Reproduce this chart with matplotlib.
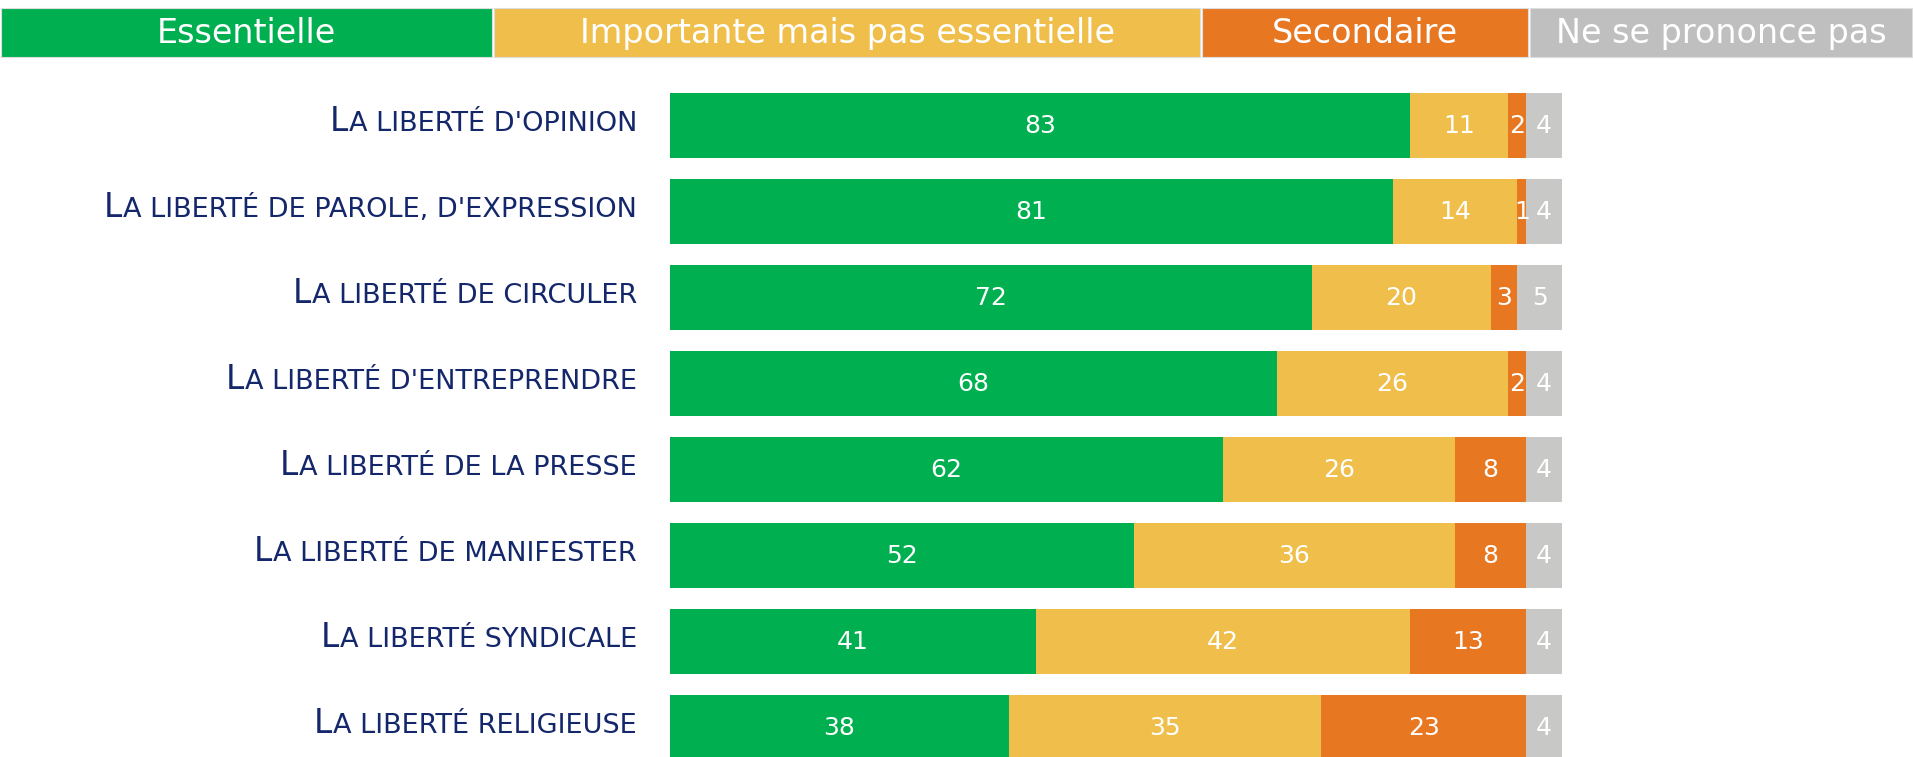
import matplotlib
matplotlib.use("Agg")
import matplotlib.pyplot as plt
from matplotlib.patches import Rectangle
import numpy as np

# data
labels = [
    "La liberté d'opinion",
    "La liberté de parole, d'expression",
    "La liberté de circuler",
    "La liberté d'entreprendre",
    "La liberté de la presse",
    "La liberté de manifester",
    "La liberté syndicale",
    "La liberté religieuse",
]
categories = ["Essentielle", "Importante mais pas essentielle", "Secondaire", "Ne se prononce pas"]
essentielle = [83, 81, 72, 68, 62, 52, 41, 38]
importante = [11, 14, 20, 26, 26, 36, 42, 35]
secondaire = [2, 1, 3, 2, 8, 8, 13, 23]
nspp = [4, 4, 5, 4, 4, 4, 4, 4]

# styling
W, H = 1913, 757
BAR_COLORS = ["#00B050", "#F0BE4A", "#E87722", "#C8C8C6"]
LEGEND_COLORS = ["#00B050", "#F0BE4A", "#E87722", "#BFBFBF"]
LABEL_COLOR = "#14276B"
legend_edges = [0, 493, 1201, 1529, 1913]  # pixel x edges of the legend boxes

plt.rcParams["font.family"] = ["DejaVu Sans"]

fig = plt.figure(figsize=(W / 100, H / 100), dpi=100)


def px_box(x0, y0, x1, y1):
    """pixel box (top-left origin) -> figure fraction rect"""
    return [x0 / W, 1 - y1 / H, (x1 - x0) / W, (y1 - y0) / H]


# legend strip on top
leg = fig.add_axes(px_box(0, 0, W, 70))
leg.set_xlim(0, W)
leg.set_ylim(70, 0)
leg.axis("off")
for i, name in enumerate(categories):
    x0, x1 = legend_edges[i], legend_edges[i + 1]
    leg.add_patch(Rectangle((x0 + 1, 8), x1 - x0 - 2, 49, facecolor=LEGEND_COLORS[i],
                            edgecolor="#DDDDDD", linewidth=0.8))
    leg.text((x0 + x1) / 2, 33.5, name, color="white", fontsize=24, ha="center", va="center")

# bars
n = len(labels)
pitch = 86.0
top = 125.5 - pitch / 2
ax = fig.add_axes(px_box(670, top, 1562, top + n * pitch))
ax.set_xlim(0, 100)
ax.set_ylim(n - 0.5, -0.5)
ax.axis("off")

series = [essentielle, importante, secondaire, nspp]
y = np.arange(n)
left = np.zeros(n)
for k, vals in enumerate(series):
    vals = np.array(vals, dtype=float)
    ax.barh(y, vals, left=left, height=65 / pitch, color=BAR_COLORS[k], linewidth=0)
    for yi, (l, v) in enumerate(zip(left, vals)):
        ax.text(l + v / 2, yi + 0.01, f"{int(v)}", color="white", fontsize=18,
                ha="center", va="center")
    left += vals

# small-caps style row labels
fig.canvas.draw()
renderer = fig.canvas.get_renderer()
label_x = -33 / 892
trans = ax.get_yaxis_transform()
for i, lab in enumerate(labels):
    first, rest = lab[0], lab[1:].upper()
    base = i + 6 / pitch
    t = ax.text(label_x, base, rest, color=LABEL_COLOR, fontsize=19.5, ha="right",
                va="baseline", transform=trans)
    bb = t.get_window_extent(renderer)
    x_ax = ax.transAxes.inverted().transform((bb.x0 - 1, 0))[0]
    ax.text(x_ax, base, first, color=LABEL_COLOR, fontsize=23.5, ha="right",
            va="baseline", transform=trans)

fig.savefig("out.png", dpi=100)
